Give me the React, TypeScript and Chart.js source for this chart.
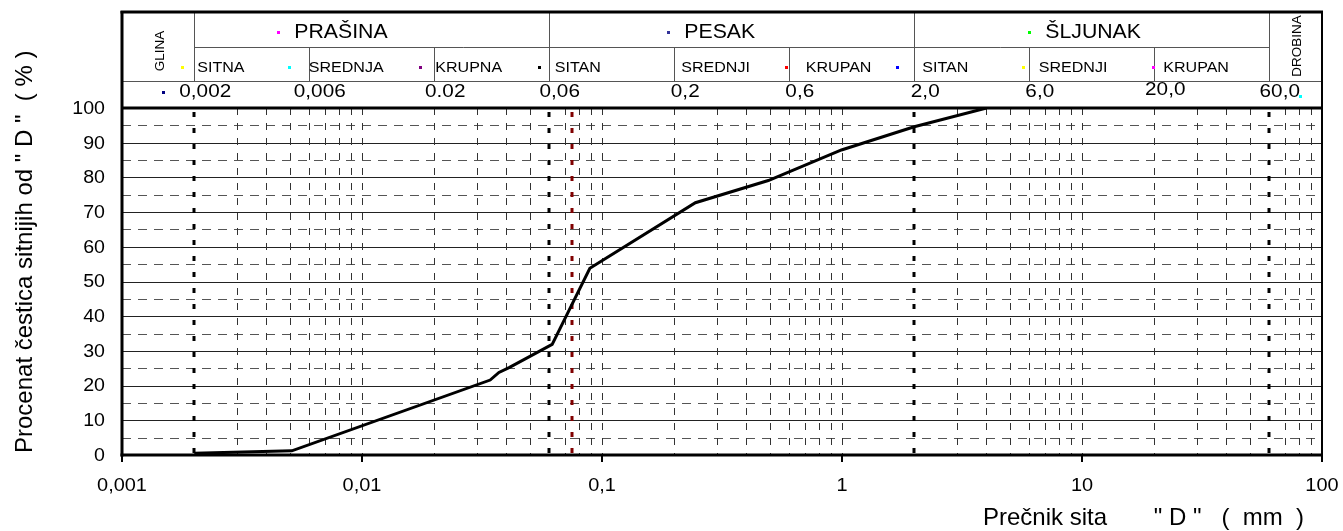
import React, { useEffect, useRef } from "react";
import { Chart, registerables } from "chart.js";

Chart.register(...registerables);

const FONT = "'Liberation Sans', Arial, sans-serif";

// ---- data ----
const grainSizeMm = [0.002, 0.0051, 0.0342, 0.0372, 0.041, 0.062, 0.089, 0.245, 0.493, 0.995, 2.0, 4.0];
const percentFiner = [0.5, 1.2, 21.6, 23.8, 25.2, 31.9, 53.8, 72.7, 79.1, 87.9, 94.6, 100];

const xTickValues = [0.001, 0.01, 0.1, 1, 10, 100];
const xTickLabels = ["0,001", "0,01", "0,1", "1", "10", "100"];
const yTickValues = [0, 10, 20, 30, 40, 50, 60, 70, 80, 90, 100];
const yTickLabels = ["0", "10", "20", "30", "40", "50", "60", "70", "80", "90", "100"];

const fractionBoundaries = [0.002, 0.006, 0.02, 0.06, 0.2, 0.6, 2, 6, 20, 60];
const fractionBoundaryLabels = ["0,002", "0,006", "0.02", "0,06", "0,2", "0,6", "2,0", "6,0", "20,0", "60,0"];
const majorBoundaries = [0.002, 0.06, 2, 60];
const sieveLimit = [0.075];

const mainFractions = ["PRAŠINA", "PESAK", "ŠLJUNAK"];
const mainFractionMarkers = [0.00448, 0.1889, 6.03];
const mainFractionColors = ["#FF00FF", "#333399", "#00FF00"];

const subFractions = ["SITNA", "SREDNJA", "KRUPNA", "SITAN", "SREDNJI", "KRUPAN", "SITAN", "SREDNJI", "KRUPAN"];
const subFractionStarts = [0.002, 0.006, 0.02, 0.06, 0.2, 0.6, 2, 6, 20];
const subMarkerValues = [0.001784, 0.004964, 0.01745, 0.05479, 0.5843, 1.7, 5.692, 19.82];
const subMarkerColors = ["#FFFF00", "#00FFFF", "#800080", "#000000", "#FF0000", "#0000FF", "#FFFF00", "#FF00FF"];
const numberRowMarkerValues = [0.001486, 80.9];
const numberRowMarkerColors = ["#000080", "#00FFFF"];

const clayLabel = "GLINA";
const cobbleLabel = "DROBINA";
const yTitle = 'Procenat čestica sitnijih od " D "  ( % )';
const xTitle = 'Prečnik sita       " D "   (  mm  )';

// ---- layout (pixel) settings ----
const subTextOffsets = [3, 0, 1, 6, 7, 17, 8, 10, 9];

function line(ctx: CanvasRenderingContext2D, x1: number, y1: number, x2: number, y2: number) {
  ctx.beginPath();
  ctx.moveTo(x1, y1);
  ctx.lineTo(x2, y2);
  ctx.stroke();
}

function text(
  ctx: CanvasRenderingContext2D,
  t: string,
  x: number,
  y: number,
  size: number,
  align: CanvasTextAlign,
  sx = 1,
  rotate = 0
) {
  ctx.save();
  ctx.translate(x, y);
  if (rotate) ctx.rotate(rotate);
  ctx.scale(sx, 1);
  ctx.font = `${size}px ${FONT}`;
  ctx.textAlign = align;
  ctx.textBaseline = "middle";
  ctx.fillStyle = "#000";
  ctx.fillText(t, 0, 0);
  ctx.restore();
}

const gridPlugin = {
  id: "soilGrid",
  beforeDatasetsDraw(chart: any) {
    const { ctx, chartArea: ca, scales } = chart;
    const xs = scales.x;
    const ys = scales.y;
    ctx.save();
    ctx.lineWidth = 1;
    // horizontal dashed (5, 15, ...)
    ctx.strokeStyle = "#555";
    ctx.setLineDash([9, 7]);
    for (let v = 5; v < 100; v += 10) {
      const y = Math.round(ys.getPixelForValue(v)) + 0.5;
      line(ctx, ca.left, y, ca.right, y);
    }
    // horizontal solid
    ctx.setLineDash([]);
    ctx.strokeStyle = "#222";
    for (let v = 10; v < 100; v += 10) {
      const y = Math.round(ys.getPixelForValue(v)) + 0.5;
      line(ctx, ca.left, y, ca.right, y);
    }
    // vertical minor dashed
    ctx.setLineDash([7, 8]);
    ctx.strokeStyle = "#333";
    for (let n = -3; n <= 1; n++) {
      for (let k = 1; k <= 9; k++) {
        const v = k * Math.pow(10, n);
        if (v <= 0.00100001 || v >= 99.999) continue;
        if (majorBoundaries.some((b) => Math.abs(b - v) / b < 1e-6)) continue;
        const x = Math.round(xs.getPixelForValue(v)) + 0.5;
        line(ctx, x, ca.top, x, ca.bottom);
      }
    }
    // thick dotted boundaries
    ctx.lineWidth = 3;
    ctx.setLineDash([5, 11]);
    ctx.strokeStyle = "#000";
    majorBoundaries.forEach((b) => {
      const x = Math.round(xs.getPixelForValue(b));
      line(ctx, x, ca.top + 4, x, ca.bottom);
    });
    ctx.strokeStyle = "#800000";
    sieveLimit.forEach((b) => {
      const x = Math.round(xs.getPixelForValue(b));
      line(ctx, x, ca.top + 4, x, ca.bottom);
    });
    ctx.restore();
  },
  afterDatasetsDraw(chart: any) {
    const { ctx, chartArea: ca, scales } = chart;
    const xs = scales.x;
    const ys = scales.y;
    const headerTop = ca.top - 96;
    const row1 = ca.top - 61;
    const row2 = ca.top - 27;
    const px = (v: number) => xs.getPixelForValue(v);
    ctx.save();
    ctx.setLineDash([]);

    // header inner lines
    ctx.strokeStyle = "#555";
    ctx.lineWidth = 1;
    const xClay = Math.round(px(0.002)) + 0.5;
    const xCobble = Math.round(px(60)) + 0.5;
    line(ctx, xClay, Math.round(row1) + 0.5, xCobble, Math.round(row1) + 0.5);
    line(ctx, ca.left, Math.round(row2) + 0.5, ca.right, Math.round(row2) + 0.5);
    fractionBoundaries.forEach((b) => {
      const x = Math.round(px(b)) + 0.5;
      const isMajor = majorBoundaries.some((m) => Math.abs(m - b) / b < 1e-6);
      line(ctx, x, isMajor ? headerTop : row1, x, row2);
    });

    // borders
    ctx.strokeStyle = "#000";
    ctx.lineWidth = 3;
    line(ctx, ca.left, ca.top, ca.right, ca.top);
    line(ctx, ca.left - 1.5, ca.bottom, ca.right + 1, ca.bottom);
    line(ctx, ca.left, headerTop - 1, ca.left, ca.bottom + 1.5);
    line(ctx, ca.left - 1.5, headerTop, ca.right + 1, headerTop);
    ctx.lineWidth = 2;
    line(ctx, ca.right, headerTop - 1, ca.right, ca.bottom + 1);
    // decade tick marks below axis
    xTickValues.forEach((v) => {
      const x = Math.round(px(v));
      line(ctx, x, ca.bottom, x, ca.bottom + 7);
    });

    // markers
    const marker = (v: number, y: number, c: string) => {
      ctx.fillStyle = c;
      ctx.fillRect(Math.round(px(v)) - 1, Math.round(y) - 1, 3, 3);
    };
    mainFractionMarkers.forEach((v, i) => marker(v, headerTop + 20, mainFractionColors[i]));
    subMarkerValues.forEach((v, i) => marker(v, row1 + 20, subMarkerColors[i]));
    marker(numberRowMarkerValues[0], ca.top - 16, numberRowMarkerColors[0]);
    marker(numberRowMarkerValues[1], ca.top - 12, numberRowMarkerColors[1]);

    // header texts
    mainFractions.forEach((t, i) => {
      text(ctx, t, px(mainFractionMarkers[i]) + 16, headerTop + 21, 19.5, "left", 1.09);
    });
    subFractions.forEach((t, i) => {
      text(ctx, t, px(subFractionStarts[i]) + subTextOffsets[i], row1 + 21, 15, "left", 1.07);
    });
    fractionBoundaryLabels.forEach((t, i) => {
      const y = t === "20,0" ? ca.top - 18 : ca.top - 16;
      text(ctx, t, px(fractionBoundaries[i]) + 11, y, 18.5, "center", 1.12);
    });

    // rotated column labels
    text(ctx, clayLabel, (ca.left + px(0.002)) / 2 + 2, headerTop + 39, 13.5, "center", 1, -Math.PI / 2);
    text(ctx, cobbleLabel, (px(60) + ca.right) / 2 + 2, headerTop + 34, 13.5, "center", 1, -Math.PI / 2);

    // axis tick labels
    xTickValues.forEach((v, i) => {
      text(ctx, xTickLabels[i], px(v), ca.bottom + 31, 17.5, "center", 1.14);
    });
    yTickValues.forEach((v, i) => {
      text(ctx, yTickLabels[i], ca.left - 17, ys.getPixelForValue(v) + 1, 17.5, "right", 1.12);
    });

    // axis titles
    text(ctx, yTitle, 25, ca.bottom - 2, 24, "left", 1, -Math.PI / 2);
    text(ctx, xTitle, 983, ca.bottom + 63, 24, "left", 1);

    ctx.restore();
  },
};

export default function App() {
  const canvasRef = useRef<HTMLCanvasElement | null>(null);

  useEffect(() => {
    document.body.style.margin = "0";
    const canvas = canvasRef.current;
    if (!canvas) return;
    const chart = new Chart(canvas, {
      type: "line",
      data: {
        datasets: [
          {
            data: grainSizeMm.map((x, i) => ({ x, y: percentFiner[i] })),
            borderColor: "#000",
            borderWidth: 3,
            pointRadius: 0,
            tension: 0,
            fill: false,
          },
        ],
      },
      options: {
        responsive: false,
        animation: false,
        devicePixelRatio: 1,
        layout: { padding: { top: 108, right: 21, left: 0, bottom: 0 } },
        plugins: { legend: { display: false }, tooltip: { enabled: false } },
        scales: {
          x: {
            type: "logarithmic",
            min: 0.001,
            max: 100,
            grid: { display: false, drawTicks: false },
            border: { display: false },
            ticks: { display: false },
            afterFit: (scale: any) => {
              scale.height = 76;
            },
          },
          y: {
            type: "linear",
            min: 0,
            max: 100,
            grid: { display: false, drawTicks: false },
            border: { display: false },
            ticks: { display: false },
            afterFit: (scale: any) => {
              scale.width = 122;
            },
          },
        },
      },
      plugins: [gridPlugin],
    } as any);
    return () => chart.destroy();
  }, []);

  return (
    <div style={{ width: 1343, height: 531, background: "#fff" }}>
      <canvas ref={canvasRef} width={1343} height={531} style={{ display: "block" }} />
    </div>
  );
}
